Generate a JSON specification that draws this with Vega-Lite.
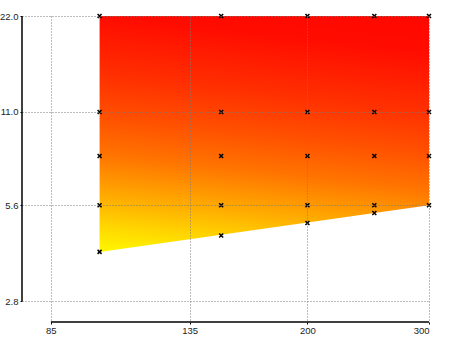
{
  "$schema": "https://vega.github.io/schema/vega-lite/v6.json",
  "autosize": {"type": "none"},
  "padding": {"left": 22, "top": 16, "right": 21, "bottom": 15},
  "width": 407,
  "height": 306,
  "background": "white",
  "config": {
    "view": {"stroke": null},
    "axis": {
      "labelFont": "Liberation Sans",
      "labelFontSize": 9.5,
      "labelColor": "#222",
      "grid": true,
      "gridColor": "#7a7a7a",
      "gridDash": [1, 2],
      "gridWidth": 1,
      "domain": false,
      "tickColor": "black",
      "tickSize": 2,
      "labelPadding": 1,
      "title": null
    }
  },
  "datasets": {
    "region": [
      {"x": 100, "lo": 4.0, "hi": 22},
      {"x": 300, "lo": 5.6, "hi": 22}
    ],
    "pts": [
      {"x": 100, "y": 22}, {"x": 100, "y": 11}, {"x": 100, "y": 8}, {"x": 100, "y": 5.6}, {"x": 100, "y": 4.0},
      {"x": 150, "y": 22}, {"x": 150, "y": 11}, {"x": 150, "y": 8}, {"x": 150, "y": 5.6}, {"x": 150, "y": 4.5},
      {"x": 200, "y": 22}, {"x": 200, "y": 11}, {"x": 200, "y": 8}, {"x": 200, "y": 5.6}, {"x": 200, "y": 4.93},
      {"x": 250, "y": 22}, {"x": 250, "y": 11}, {"x": 250, "y": 8}, {"x": 250, "y": 5.6}, {"x": 250, "y": 5.3},
      {"x": 300, "y": 22}, {"x": 300, "y": 11}, {"x": 300, "y": 8}, {"x": 300, "y": 5.6}
    ],
    "xaxisline": [{"x": 85, "x2": 300, "y": 2.41}],
    "yaxisline": [{"x": 77.2, "y": 2.8, "y2": 22}]
  },
  "layer": [
    {
      "data": {"name": "region"},
      "mark": {
        "type": "area",
        "orient": "vertical",
        "color": {
          "gradient": "linear",
          "x1": 1, "y1": 0, "x2": 0.831, "y2": 1.125,
          "stops": [
            {"offset": 0, "color": "#ff0700"},
            {"offset": 0.13, "color": "#ff0c00"},
            {"offset": 0.35, "color": "#ff3000"},
            {"offset": 0.5, "color": "#ff5000"},
            {"offset": 0.64, "color": "#ff7400"},
            {"offset": 0.8, "color": "#ffae00"},
            {"offset": 0.9, "color": "#ffd500"},
            {"offset": 1, "color": "#fff800"}
          ]
        }
      },
      "encoding": {
        "x": {
          "field": "x", "type": "quantitative",
          "scale": {"type": "log", "domain": [77.2, 300], "nice": false},
          "axis": {"values": [85, 135, 200, 300], "format": "d", "zindex": 1}
        },
        "y": {
          "field": "lo", "type": "quantitative",
          "scale": {"type": "log", "domain": [2.41, 22], "nice": false},
          "axis": {"values": [2.8, 5.6, 11, 22], "format": ".1f", "zindex": 1, "labelPadding": 2}
        },
        "y2": {"field": "hi"}
      }
    },
    {
      "data": {"name": "pts"},
      "mark": {
        "type": "point",
        "shape": "M-1,-1L1,1M-1,1L1,-1",
        "filled": false,
        "stroke": "black",
        "strokeWidth": 1.5,
        "size": 16,
        "opacity": 1
      },
      "encoding": {
        "x": {"field": "x", "type": "quantitative"},
        "y": {"field": "y", "type": "quantitative"}
      }
    },
    {
      "data": {"name": "xaxisline"},
      "mark": {"type": "rule", "color": "black", "strokeWidth": 1.5},
      "encoding": {
        "x": {"field": "x", "type": "quantitative"},
        "x2": {"field": "x2"},
        "y": {"field": "y", "type": "quantitative"}
      }
    },
    {
      "data": {"name": "yaxisline"},
      "mark": {"type": "rule", "color": "black", "strokeWidth": 1.5},
      "encoding": {
        "x": {"field": "x", "type": "quantitative"},
        "y": {"field": "y", "type": "quantitative"},
        "y2": {"field": "y2"}
      }
    }
  ]
}
